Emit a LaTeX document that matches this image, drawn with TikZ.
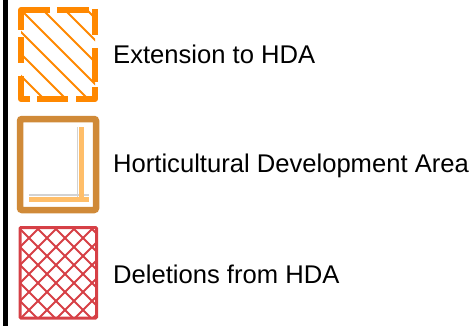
\documentclass[tikz,border=0pt]{standalone}
\usepackage{fontspec}
\setmainfont{Liberation Sans}

\definecolor{extorange}{RGB}{255,136,0}
\definecolor{hdabrown}{RGB}{208,138,56}
\definecolor{hdalight}{RGB}{255,190,105}
\definecolor{delred}{RGB}{214,64,70}

\tikzset{
  extdash/.style={draw=extorange, line width=6pt, line join=round},
  exthatch/.style={draw=extorange, line width=2pt},
  hdaframe/.style={draw=hdabrown, line width=6.5pt, rounded corners=2pt},
  delframe/.style={draw=delred, line width=3pt, rounded corners=1pt},
  delhatch/.style={draw=delred, line width=1.8pt},
  legendtext/.style={anchor=base west, inner sep=0pt, font=\fontsize{25.6}{30}\selectfont},
}

\begin{document}
\begin{tikzpicture}[x=1pt,y=-1pt]
        \useasboundingbox (0,0) rectangle (473,326);

        % Barra negra a la izquierda
        \fill (3,0) rectangle (7.5,326);

        % Extension to HDA: rayado y borde discontinuo
        \begin{scope}
          \clip (21,10) rectangle (95,99);
          \foreach \c in {-77,-55,...,77}
            \draw[exthatch] (\c,0) -- ++(110,110);
        \end{scope}

        \draw[extdash] (21,30) -- (21,10) -- (50,10);
        \draw[extdash] (57,10) -- (89,10);
        \draw[extdash] (95,9) -- (95,35);
        \draw[extdash] (95,48) -- (95,82);
        \draw[extdash] (95,87) -- (95,99) -- (76,99);
        \draw[extdash] (68,99) -- (37,99);
        \draw[extdash] (30,99) -- (21,99) -- (21,76);
        \draw[extdash] (21,63) -- (21,37);

        \node[legendtext] (ext) at (113,64) {Extension to HDA};

        % Horticultural Development Area
        \draw[hdaframe] (20,119) rectangle (96,210);
        \draw[gray!35, line width=1.3pt] (77.8,127) -- (77.8,202);
        \draw[gray!35, line width=1.3pt] (29,195) -- (89,195);
        \draw[hdalight, line width=4.6pt] (81.3,127) -- (81.3,202);
        \draw[hdalight, line width=4.4pt] (29,199.5) -- (89,199.5);

        \node[legendtext] (hda) at (113,172) {Horticultural Development Area};

        % Deletions from HDA: rayado cruzado
        \begin{scope}
          \clip (20,227.5) rectangle (96.5,318);
          \foreach \c in {231,249,...,411}
            \draw[delhatch] (\c-330,330) -- (\c-200,200);
          \foreach \c in {-299,-281,...,-137}
            \draw[delhatch] (\c+200,200) -- (\c+330,330);
        \end{scope}
        \draw[delframe] (20,227.5) rectangle (96.5,318);

        \node[legendtext] (del) at (113,283) {Deletions from HDA};

\end{tikzpicture}
\end{document}
